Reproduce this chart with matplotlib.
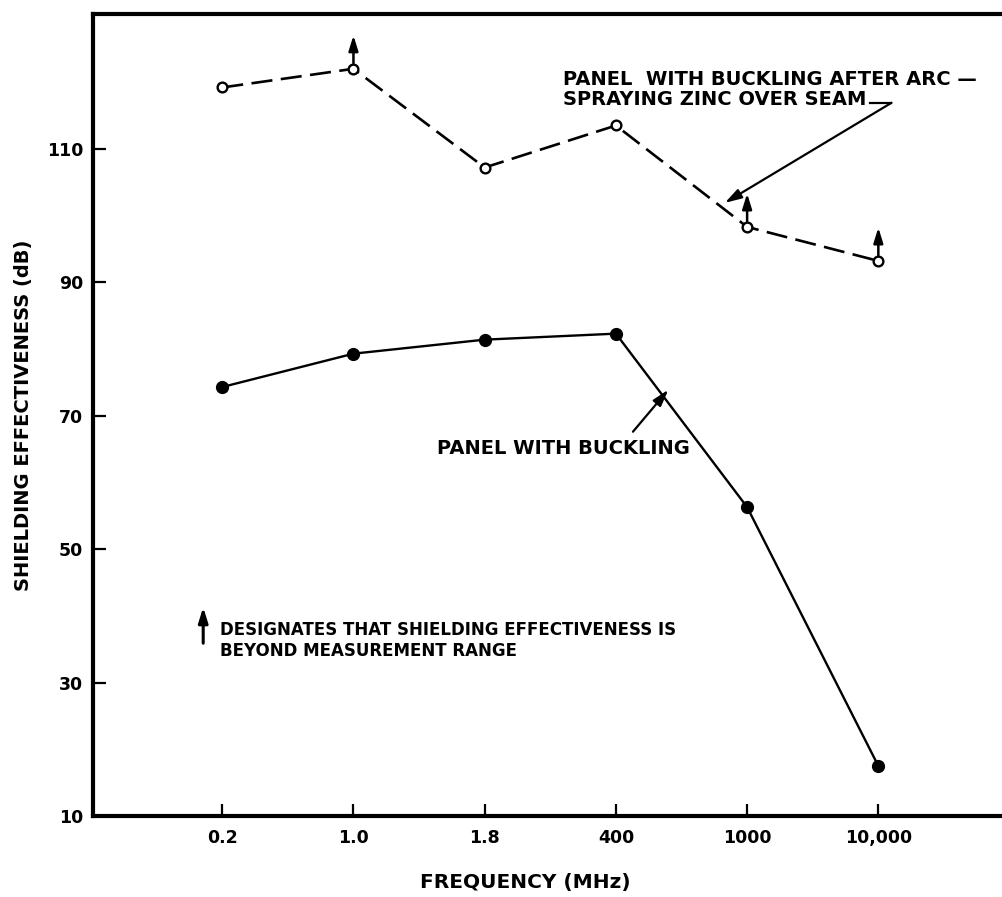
#!/usr/bin/env python3
"""
Shielding effectiveness of a buckled panel, before and after
arc-spraying zinc over the seam.
"""
import matplotlib as mpl
mpl.use('Agg')
import matplotlib.pyplot as plt

freq_labels = ['0.2', '1.0', '1.8', '400', '1000', '10,000']
sprayed_db = [119.2, 122.0, 107.2, 113.5, 98.3, 93.2]
sprayed_beyond = [False, True, False, False, True, True]
buckled_db = [74.3, 79.3, 81.4, 82.3, 56.3, 17.5]
y_ticks = [10, 30, 50, 70, 90, 110]

FONT = dict(family='DejaVu Sans', weight='bold', color='black')
UP_ARROW = dict(arrowstyle='-|>,head_length=0.9,head_width=0.28',
	color='black', lw=1.8, shrinkA=4, shrinkB=0)


def plot_chart(path):
	fig = plt.figure(figsize=(10.03, 8.97), dpi=100)
	ax = fig.add_axes([0.0927, 0.0903, 0.9073, 0.894])
	x = list(range(len(freq_labels)))

	ax.plot(x, sprayed_db, color='black', lw=1.9, dashes=(8, 3.2),
		marker='o', ms=7, mfc='white', mec='black', mew=1.7, zorder=3)
	ax.plot(x, buckled_db, color='black', lw=1.7,
		marker='o', ms=8.5, mfc='black', mec='black', zorder=3)

	# arrows: value beyond measurement range
	arrow_db = 5.0
	for i, beyond in enumerate(sprayed_beyond):
		if beyond:
			ax.annotate('', xy=(i, sprayed_db[i] + arrow_db), xytext=(i, sprayed_db[i]),
				arrowprops=UP_ARROW)

	ax.set_xlim(-0.985, 5.95)
	ax.set_ylim(10, 130.2)
	ax.set_xticks(x)
	ax.set_xticklabels(freq_labels)
	ax.set_yticks(y_ticks)
	ax.set_yticklabels([str(t) for t in y_ticks])
	for lab in ax.get_xticklabels() + ax.get_yticklabels():
		lab.set_fontweight('bold')
		lab.set_fontsize(12.5)
	ax.tick_params(axis='x', direction='in', length=9, width=1.6, pad=9)
	ax.tick_params(axis='y', direction='in', length=9, width=1.6, pad=7)

	ax.spines['right'].set_visible(False)
	for side in ('left', 'bottom', 'top'):
		ax.spines[side].set_linewidth(3.0)

	# curve labels
	ax.text(2.6, 118.85, 'PANEL  WITH BUCKLING AFTER ARC \u2014\nSPRAYING ZINC OVER SEAM',
		ha='left', va='center', fontsize=14, linespacing=1.05, **FONT)
	ax.plot([4.94, 5.1], [116.9, 116.9], color='black', lw=1.6)
	ax.annotate('', xy=(3.83, 101.9), xytext=(5.1, 116.9),
		arrowprops=dict(arrowstyle='-|>,head_length=1.0,head_width=0.3',
			color='black', lw=1.6, shrinkA=0, shrinkB=0))

	ax.text(1.64, 65.15, 'PANEL WITH BUCKLING', ha='left', va='center',
		fontsize=14, **FONT)
	ax.annotate('', xy=(3.40, 73.9), xytext=(3.13, 67.6),
		arrowprops=dict(arrowstyle='-|>,head_length=1.0,head_width=0.3',
			color='black', lw=1.6, shrinkA=0, shrinkB=0))

	# key for the arrows
	ax.annotate('', xy=(-0.145, 41.3), xytext=(-0.145, 35.9),
		arrowprops=dict(UP_ARROW, lw=2.2, shrinkA=0))
	ax.text(-0.015, 36.3, 'DESIGNATES THAT SHIELDING EFFECTIVENESS IS\nBEYOND MEASUREMENT RANGE',
		ha='left', va='center', fontsize=12, linespacing=1.15, **FONT)

	fig.text(24 / 1003, 1 - 415 / 897, 'SHIELDING EFFECTIVENESS (dB)', rotation=90,
		ha='center', va='center', fontsize=14, **FONT)
	fig.text(525 / 1003, 1 - 882 / 897, 'FREQUENCY (MHz)', ha='center', va='center',
		fontsize=14.5, **FONT)

	fig.savefig(path, dpi=100)


def main():
	plot_chart('out.png')


if __name__ == '__main__':
	main()
